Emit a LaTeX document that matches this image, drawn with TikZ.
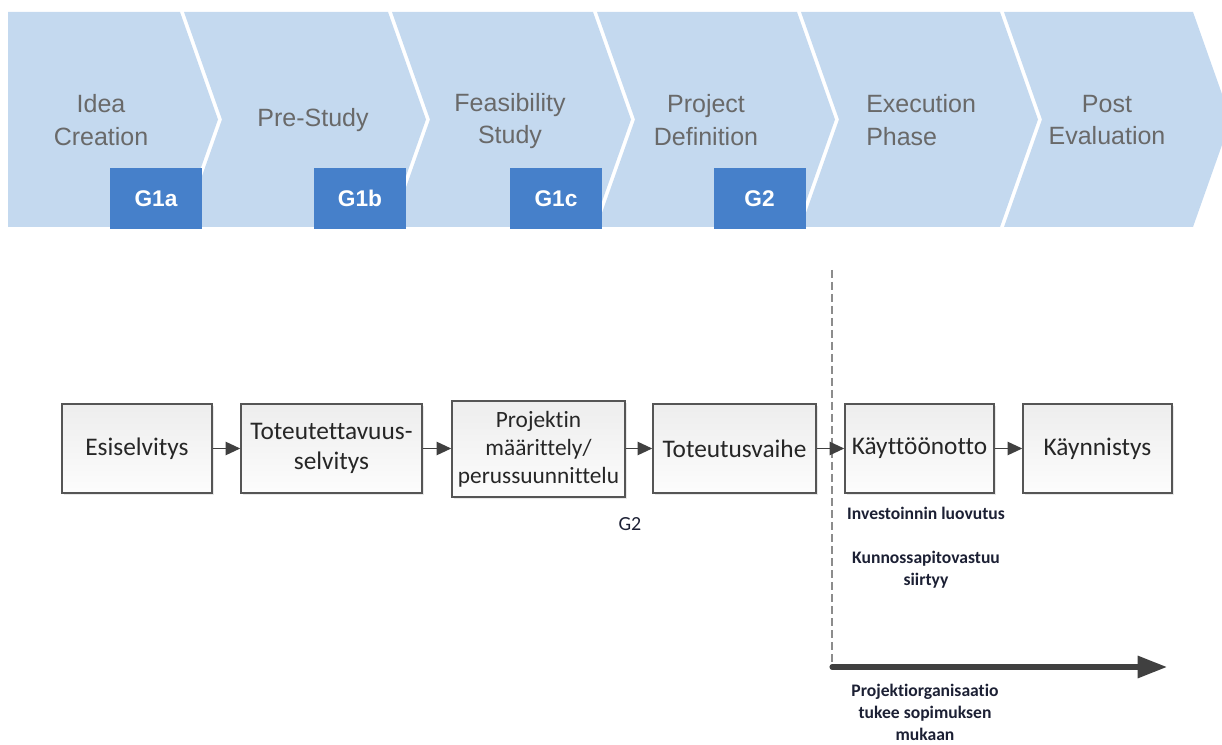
\documentclass[tikz,border=0pt]{standalone}
\usepackage{fontspec}
\setmainfont{Carlito}[Ligatures={NoCommon}]
\newfontfamily\arialfont{Liberation Sans}
\usetikzlibrary{arrows.meta,shadows}

\definecolor{chevfill}{RGB}{196,217,239}
\definecolor{chevtext}{RGB}{105,105,105}
\definecolor{gatefill}{RGB}{70,128,202}
\definecolor{boxline}{RGB}{85,85,85}
\definecolor{linkcol}{RGB}{64,64,64}
\definecolor{notecol}{RGB}{28,32,52}

\tikzset{
  chev/.style={fill=chevfill},
  chevlabel/.style={font=\arialfont\fontsize{18.75}{24.5}\selectfont, text=chevtext, align=center, inner sep=0pt},
  gate/.style={fill=gatefill, text=white, font=\arialfont\bfseries\fontsize{17}{20}\selectfont,
               minimum width=69pt, minimum height=45.75pt, inner sep=0pt},
  stage/.style={draw=boxline, line width=1.1pt, top color=black!7, bottom color=black!1,
                drop shadow={shadow xshift=1.6pt, shadow yshift=-1.6pt, opacity=0.18},
                minimum height=66.75pt, inner sep=0pt, align=center,
                font=\fontsize{19}{22}\selectfont, text=black!85},
  link/.style={draw=linkcol, line width=1.1pt, -{Triangle[length=11pt,width=10pt]}},
  note/.style={font=\bfseries\fontsize{13.2}{16.5}\selectfont, text=notecol, align=center, inner sep=0pt},
}

\begin{document}
\begin{tikzpicture}[x=0.75pt, y=-0.75pt]
\useasboundingbox (0,0) rectangle (1222,745);
\clip (0,0) rectangle (1222,745);

% phase chevrons
\fill[chev] (8,12) -- (180,12) -- (218,119.5) -- (180,227) -- (8,227) -- cycle;
\foreach \l/\r in {180/388, 388/593, 593/797, 797/1000, 1000/1193} {
  \fill[chev] (\l+4,12) -- (\r,12) -- (\r+38,119.5) -- (\r,227) -- (\l+4,227) -- (\l+42,119.5) -- cycle;
}

\node[chevlabel] (idea) at (101,120) {Idea\\Creation};
\node[chevlabel] (pre)  at (313,120) {Pre-Study};
\node[chevlabel] (feas) at (510,121) {Feasibility\\Study};
\node[chevlabel] (pdef) at (706,120) {Project\\Definition};
\node[chevlabel, align=left, anchor=west] (exec) at (866,120) {Execution\\Phase};
\node[chevlabel] (post) at (1107,120) {Post\\Evaluation};

% gates
\node[gate] (g1a) at (156,198.5) {G1a};
\node[gate] (g1b) at (360,198.5) {G1b};
\node[gate] (g1c) at (556,198.5) {G1c};
\node[gate] (g2)  at (759.5,198.5) {G2};

% handover boundary
\coordinate (dtop) at (832,270);
\coordinate (dbot) at (832,668);
\draw[draw=black!45, line width=0.8pt, dash pattern=on 6pt off 3pt] (dtop) -- (dbot);

% process steps
\node[stage, minimum width=112.5pt]  (s1) at (137,448.5) {Esiselvitys};
\node[stage, minimum width=135.75pt] (s2) at (331.5,448.5) {Toteutettavuus-\\selvitys};
\node[stage, minimum width=129.75pt, minimum height=72pt, font=\fontsize{17.5}{21}\selectfont] (s3) at (538.5,449) {Projektin\\määrittely/\\perussuunnittelu};
\node[stage, minimum width=122.25pt] (s4) at (734.5,448.5) {Toteutusvaihe};
\node[stage, minimum width=111.75pt] (s5) at (919.5,448.5) {Käyttöönotto};
\node[stage, minimum width=111.75pt] (s6) at (1097.5,448.5) {Käynnistys};

\draw[link] (s1.east) -- (s2.west);
\draw[link] (s2.east) -- (s3.west |- s2.east);
\draw[link] (s3.east |- s4.west) -- (s4.west);
\draw[link] (s4.east) -- (s5.west);
\draw[link] (s5.east) -- (s6.west);

% labels
\node[font=\fontsize{15}{18}\selectfont, text=notecol, inner sep=0pt] (g2lbl) at (630,524) {G2};
\node[note] (inv) at (926,513) {Investoinnin luovutus};
\node[note] (kun) at (926,570) {Kunnossapitovastuu\\siirtyy};

% support period
\coordinate (pstart) at (832,667);
\coordinate (pend) at (1167,667);
\draw[draw=linkcol, line width=3.8pt, line cap=round, -{Triangle[length=22pt,width=16pt]}] (pstart) -- (pend);
\node[note] (org) at (925,712) {Projektiorganisaatio\\tukee sopimuksen\\mukaan};
\end{tikzpicture}
\end{document}
